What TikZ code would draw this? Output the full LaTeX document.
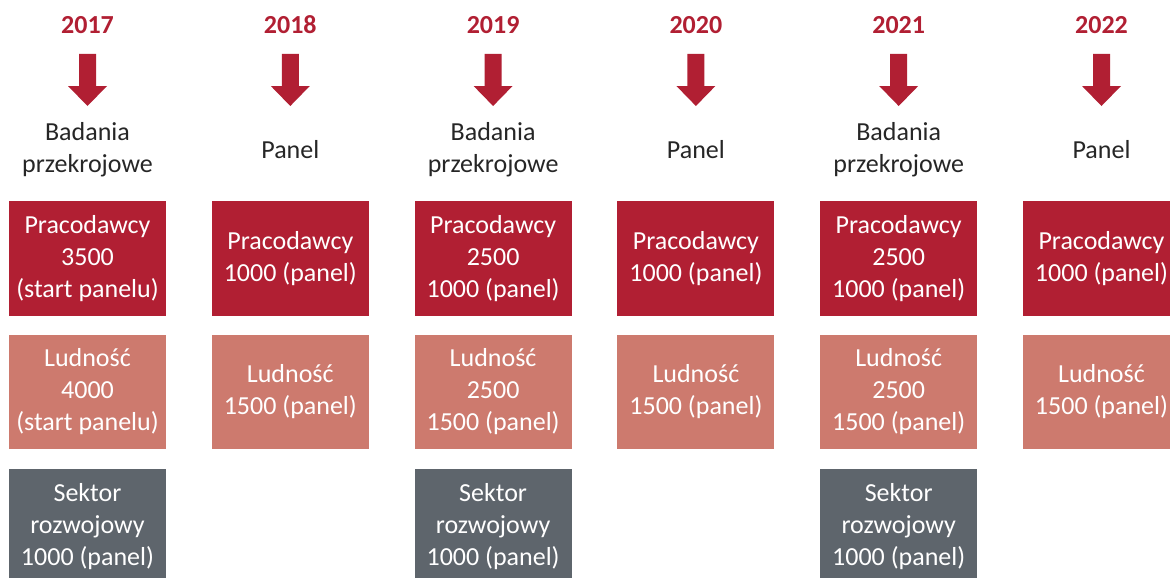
\documentclass[tikz,border=0pt]{standalone}
\usepackage{fontspec}
\setmainfont{Carlito}
\definecolor{brand}{HTML}{B11F33}
\definecolor{salmon}{HTML}{CD7A6E}
\definecolor{slate}{HTML}{5E656C}
\definecolor{ink}{HTML}{262626}

\begin{document}
\begin{tikzpicture}[x=1pt,y=-1pt,
  txt/.style={font=\fontsize{26}{32}\selectfont, align=center, inner sep=0pt},
  year/.style={txt, font=\fontsize{26}{32}\selectfont\bfseries, text=brand},
  kind/.style={txt, text=ink},
  cell/.style={txt, text=white, minimum width=157pt},
  emp/.style={cell, fill=brand, minimum height=115pt},
  pop/.style={cell, fill=salmon, minimum height=114pt},
  dev/.style={cell, fill=slate, minimum height=115pt},
  downarrow/.pic={\fill[brand] (-8.5,0) -- (8.5,0) -- (8.5,32) -- (19.5,32)
      -- (0,52) -- (-19.5,32) -- (-8.5,32) -- cycle;}
]
\useasboundingbox (0,0) rectangle (1170,578);
\clip (0,0) rectangle (1170,578);

% year headings and arrows
\foreach \x/\yr in {87.5/2017, 290.3/2018, 493.1/2019, 695.9/2020, 898.7/2021, 1101.5/2022}{
  \node[year] (y\yr) at (\x,25) {\yr};
  \pic at (\x,54) {downarrow};
}

% survey type
\node[kind] (k2017) at (87.5,150)   {Badania\\przekrojowe};
\node[kind] (k2018) at (290.3,150)  {Panel};
\node[kind] (k2019) at (493.1,150)  {Badania\\przekrojowe};
\node[kind] (k2020) at (695.9,150)  {Panel};
\node[kind] (k2021) at (898.7,150)  {Badania\\przekrojowe};
\node[kind] (k2022) at (1101.5,150) {Panel};

% employers
\node[emp] (p2017) at (87.5,258.5)   {Pracodawcy\\3500\\(start panelu)};
\node[emp] (p2018) at (290.3,258.5)  {Pracodawcy\\1000 (panel)};
\node[emp] (p2019) at (493.1,258.5)  {Pracodawcy\\2500\\1000 (panel)};
\node[emp] (p2020) at (695.9,258.5)  {Pracodawcy\\1000 (panel)};
\node[emp] (p2021) at (898.7,258.5)  {Pracodawcy\\2500\\1000 (panel)};
\node[emp] (p2022) at (1101.5,258.5) {Pracodawcy\\1000 (panel)};

% population
\node[pop] (l2017) at (87.5,392)   {Ludność\\4000\\(start panelu)};
\node[pop] (l2018) at (290.3,392)  {Ludność\\1500 (panel)};
\node[pop] (l2019) at (493.1,392)  {Ludność\\2500\\1500 (panel)};
\node[pop] (l2020) at (695.9,392)  {Ludność\\1500 (panel)};
\node[pop] (l2021) at (898.7,392)  {Ludność\\2500\\1500 (panel)};
\node[pop] (l2022) at (1101.5,392) {Ludność\\1500 (panel)};

% development sector
\node[dev] (s2017) at (87.5,526.5)  {Sektor\\rozwojowy\\1000 (panel)};
\node[dev] (s2019) at (493.1,526.5) {Sektor\\rozwojowy\\1000 (panel)};
\node[dev] (s2021) at (898.7,526.5) {Sektor\\rozwojowy\\1000 (panel)};
\end{tikzpicture}
\end{document}
